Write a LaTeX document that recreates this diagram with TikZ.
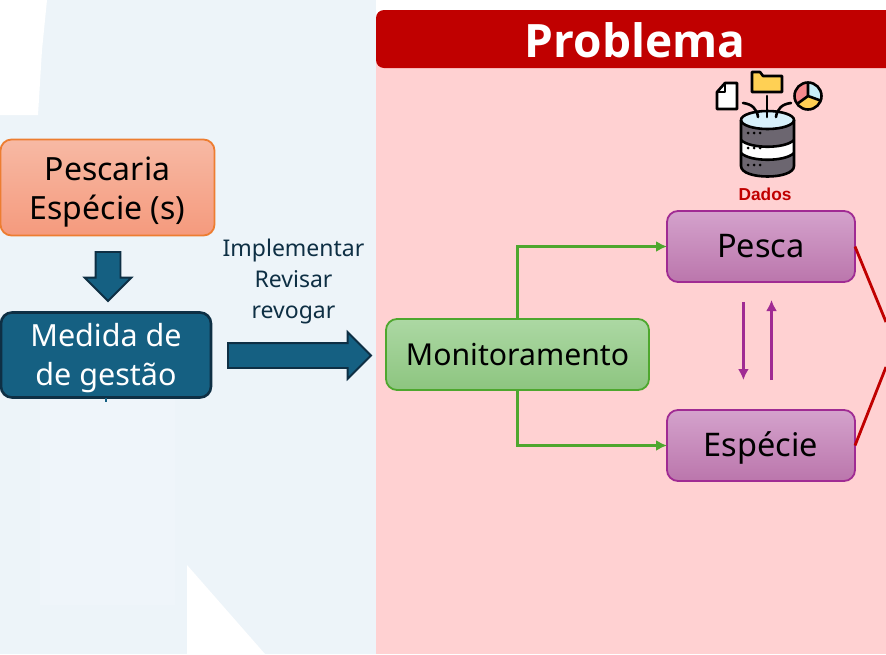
\documentclass[tikz,border=0pt]{standalone}
\usepackage{fontspec}
\setmainfont{Noto Sans}
\newfontfamily\headfont{Open Sans}
\newfontfamily\iconfont{Liberation Sans}
\usetikzlibrary{positioning,shapes.arrows,arrows.meta}
\definecolor{backblue}{HTML}{EDF4F9}
\definecolor{paleblue}{HTML}{EFF5FA}
\definecolor{panelred}{HTML}{FFD1D2}
\definecolor{darkred}{HTML}{C00000}
\definecolor{teal}{HTML}{156082}
\definecolor{navy}{HTML}{0E2F44}
\definecolor{leaf}{HTML}{4EA72E}
\definecolor{plum}{HTML}{A02B93}
\definecolor{amber}{HTML}{ED7D31}
\definecolor{fishtop}{HTML}{F7B9A4}
\definecolor{fishbot}{HTML}{F59A7D}
\definecolor{montop}{HTML}{ACD8A3}
\definecolor{monbot}{HTML}{8DC580}
\definecolor{objtop}{HTML}{D4A2CC}
\definecolor{objbot}{HTML}{BB76AC}
\definecolor{icgray}{HTML}{6C6670}
\definecolor{icsky}{HTML}{D8F1FB}
\definecolor{icpie}{HTML}{C8EEF8}
\definecolor{icrose}{HTML}{F58A8E}
\definecolor{icgold}{HTML}{FFD054}

\begin{document}
\begin{tikzpicture}
[x=1pt,y=-1pt,
 every node/.style={inner sep=0pt,outer sep=0pt,align=center},
 box/.style={rectangle,rounded corners=11pt,line width=1.8pt,text height=22pt,text depth=0pt,font=\fontsize{32.5}{40}\selectfont},
 fish/.style={box,draw=amber,top color=fishtop,bottom color=fishbot,minimum width=214pt,minimum height=96pt,text height=64pt,font=\fontsize{32}{39}\selectfont},
 act/.style={box,draw=navy,fill=teal,text=white,line width=2.6pt,minimum width=210pt,minimum height=85pt,text height=60pt,font=\fontsize{30.5}{39}\selectfont},
 mon/.style={box,draw=leaf,top color=montop,bottom color=monbot,minimum width=263pt,minimum height=71pt,font=\fontsize{30.2}{40}\selectfont},
 obj/.style={box,draw=plum,top color=objtop,bottom color=objbot,minimum width=188pt,minimum height=71pt},
 blockarrow/.style={single arrow,draw=navy,fill=teal,line width=1.8pt,inner sep=11.5pt,anchor=tail,single arrow head extend=11pt,single arrow head indent=0pt},
 glink/.style={draw=leaf,line width=2.5pt,-{Latex[length=11pt,width=11pt]}},
 plink/.style={draw=plum,line width=2.6pt,-{Latex[length=11pt,width=11pt]}},
 rlink/.style={draw=darkred,line width=2.8pt},
 ic/.style={draw=black,line width=2.6pt,line join=round}]
\clip (0,0) rectangle (886,654);

% background
\fill[backblue] (0,0) rectangle (376,654);
\fill[white] (0,0) -- (47,0) -- (42,50) -- (38,115) -- (0,115) -- cycle;
\fill[paleblue] (40,398) rectangle (175,605);
\fill[white] (187,565) -- (265,654) -- (187,654) -- cycle;
\fill[panelred] (376,40) rectangle (886,654);

\node[rectangle,rounded corners=8pt,fill=darkred,text=white,minimum width=518pt,minimum height=58pt,text height=36pt,text depth=0pt,font=\headfont\bfseries\fontsize{46}{46}\selectfont] (title) at (635,39) {Problema};

% left column
\node[fish] (pescaria) at (107.5,187.5) {Pescaria\\Espécie (s)};
\node[act] (medida) [on grid,below=167.5pt of pescaria,xshift=-1.5pt] {Medida de\\de gestão};
\node[blockarrow,shape border rotate=270,minimum height=49pt] (down) at (108,252) {};
\node[blockarrow,minimum height=143pt] (go) at (228,355.5) {};
\node[font=\fontsize{23}{31}\selectfont,text=navy] (verbs) at (293.5,281.5) {Implementar\\Revisar\\revogar};
\draw[teal,line width=1.6pt] (medida.south) -- ++(0,4);

% panel
\node[mon] (monit) at (517.5,354.5) {Monitoramento};
\node[obj] (pesca)   [on grid,above right=108pt and 243.5pt of monit] {Pesca};
\node[obj] (especie) [on grid,below right=91pt and 243.5pt of monit] {Espécie};
\draw[glink] (monit.north) |- (pesca.west);
\draw[glink] (monit.south) |- (especie.west);

\coordinate (pd1) at (743.4,302);
\coordinate (pd2) at (743.4,380);
\coordinate (pu1) at (771.5,380);
\coordinate (pu2) at (771.5,300);
\draw[plink] (pd1) -- (pd2);
\draw[plink] (pu1) -- (pu2);

\coordinate (ra) at (886,322);
\coordinate (rb) at (886,367);
\draw[rlink] (pesca.east) -- (ra);
\draw[rlink] (especie.east) -- (rb);

% data icon
\draw[ic,fill=white] (725,83) -- (737,83) -- (737,109) -- (717,109) -- (717,92) -- cycle;
\draw[ic,line width=1.6pt] (725,83) -- (725,92) -- (717,92);
\draw[ic,fill=icgold] (752,72) -- (760,72) -- (763,76) -- (782,76) -- (782,92) -- (752,92) -- cycle;
\fill[icrose] (808,96) circle (13.5);
\fill[icpie] (808,96) -- (808,82.5) arc (-90:20:13.5) -- cycle;
\fill[icgold] (808,96) -- (820.7,100.6) arc (20:145:13.5) -- cycle;
\draw[ic] (808,96) circle (13.5);
\draw[ic] (808,82.5) -- (808,96) -- (820.7,100.6) (808,96) -- (797,104);
\fill[icgray] (741,120) -- (741,166) .. controls (741,180) and (794,180) .. (794,166) -- (794,120) -- cycle;
\fill[white] (741,140) .. controls (750,149) and (785,149) .. (794,140) -- (794,153) .. controls (785,162) and (750,162) .. (741,153) -- cycle;
\draw[ic,fill=icsky] (767.5,120) ellipse (26.5 and 9);
\draw[ic] (741,120) -- (741,166) .. controls (741,180) and (794,180) .. (794,166) -- (794,120);
\draw[ic] (741,140) .. controls (750,149) and (785,149) .. (794,140);
\draw[ic] (741,153) .. controls (750,162) and (785,162) .. (794,153);
\foreach \y in {133,148,165} \foreach \x in {748,754,760} \fill[black] (\x,\y) circle (1.5);
\draw[ic,line cap=round] (767,96) -- (767,117);
\draw[ic,line cap=round] (743,103) .. controls (752,104) and (757,109) .. (758,117);
\draw[ic,line cap=round] (791,103) .. controls (782,104) and (777,109) .. (776,117);
\node[font=\iconfont\bfseries\fontsize{17.3}{17.3}\selectfont,text=darkred] (dados) at (765,194) {Dados};
\end{tikzpicture}
\end{document}
